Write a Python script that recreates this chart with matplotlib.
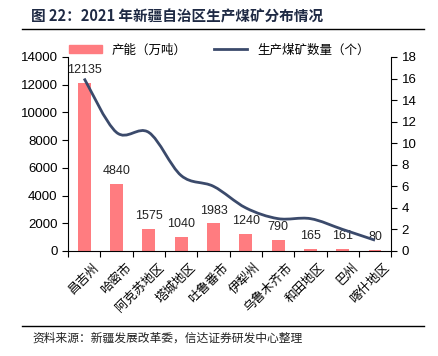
import matplotlib
matplotlib.use('Agg')
import numpy as np
import matplotlib.pyplot as plt
from matplotlib.path import Path
from matplotlib.patches import PathPatch
from matplotlib.lines import Line2D
from matplotlib.patches import Patch

plt.rcParams['font.family'] = ['Liberation Sans', 'Noto Sans CJK SC', 'DejaVu Sans']
plt.rcParams['axes.unicode_minus'] = False

regions = ['昌吉州', '哈密市', '阿克苏地区', '塔城地区', '吐鲁番市', '伊犁州',
           '乌鲁木齐市', '和田地区', '巴州', '喀什地区']
capacity = [12135, 4840, 1575, 1040, 1983, 1240, 790, 165, 161, 80]
mine_count = [16, 11, 11, 7, 6, 4, 3, 3, 2, 1]

bar_color = '#FF7C80'
line_color = '#3B4A6B'
cjk = ['Noto Sans CJK SC', 'DejaVu Sans']


def smooth_path(xs, ys):
    # Catmull-Rom style bezier through the points
    pts = np.column_stack([xs, ys]).astype(float)
    verts = [pts[0]]
    codes = [Path.MOVETO]
    n = len(pts)
    for i in range(n - 1):
        p0 = pts[i - 1] if i > 0 else pts[i]
        p1 = pts[i]
        p2 = pts[i + 1]
        p3 = pts[i + 2] if i + 2 < n else pts[i + 1]
        c1 = p1 + (p2 - p0) / 6.0
        c2 = p2 - (p3 - p1) / 6.0
        verts += [c1, c2, p2]
        codes += [Path.CURVE4] * 3
    return Path(verts, codes)


fig = plt.figure(figsize=(4.39, 3.56), dpi=100)
ax = fig.add_axes([0.155, 0.295, 0.736, 0.545])
ax2 = ax.twinx()

x = np.arange(len(regions))
ax.bar(x, capacity, width=0.4, color=bar_color, zorder=2)
for xi, v in zip(x, capacity):
    ax.annotate(str(v), (xi, v), xytext=(0, 5), textcoords='offset points',
                ha='center', va='bottom', fontsize=9, color='#222222')

ax.set_ylim(0, 14000)
ax.set_yticks(range(0, 14001, 2000))
ax.set_xlim(-0.5, len(regions) - 0.5)
ax.set_xticks(np.arange(-0.5, len(regions), 1.0))
ax.set_xticklabels([])
ax.tick_params(axis='x', length=4, direction='out')
ax.tick_params(axis='y', length=4, direction='out', labelsize=9.5)
for xi, name in zip(x, regions):
    ax.text(xi + 0.25, -700, name, rotation=45, ha='right', va='top',
            fontsize=9, rotation_mode='anchor', family=cjk)

ax2.add_patch(PathPatch(smooth_path(x, mine_count), facecolor='none',
                        edgecolor=line_color, lw=2, zorder=3))
ax2.set_ylim(0, 18)
ax2.set_yticks(range(0, 19, 2))
ax2.tick_params(axis='y', length=4, direction='out', labelsize=9.5)

for a in (ax, ax2):
    a.spines['top'].set_visible(False)
ax.spines['right'].set_visible(False)
ax2.spines['left'].set_visible(False)
ax2.spines['bottom'].set_visible(False)

handles = [Patch(color=bar_color), Line2D([0], [0], color=line_color, lw=2)]
fig.legend(handles, ['产能（万吨）', '生产煤矿数量（个）'], loc='center',
           bbox_to_anchor=(0.5, 0.86), ncol=2, frameon=False,
           prop={'family': cjk, 'size': 9},
           handlelength=2.6, columnspacing=2.2)

fig.text(0.07, 0.955, '图 22：2021 年新疆自治区生产煤矿分布情况', fontsize=10.5,
         fontweight='bold', color='#1F2A44', va='center', family=cjk)
fig.add_artist(Line2D([0.05, 0.965], [0.918, 0.918], color='black', lw=1))
fig.add_artist(Line2D([0.05, 0.965], [0.083, 0.083], color='black', lw=1))
fig.text(0.075, 0.05, '资料来源：新疆发展改革委，信达证券研发中心整理', fontsize=8.5,
         style='italic', color='#222222', va='center', family=cjk)

fig.savefig('out.png', dpi=100)
